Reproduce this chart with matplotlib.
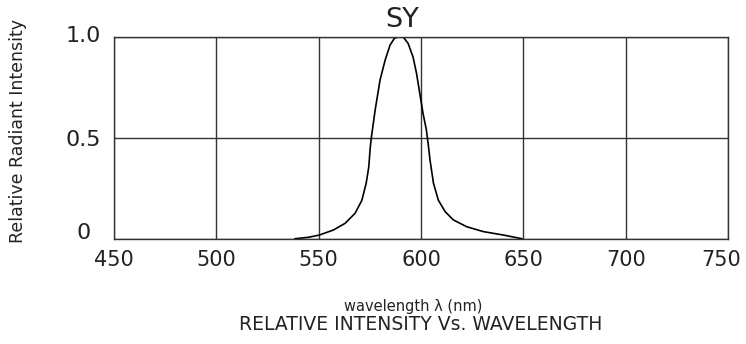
import matplotlib
matplotlib.use("Agg")
import matplotlib.pyplot as plt
from matplotlib.transforms import ScaledTranslation

# values
wavelength = [538.5, 545, 550.3, 557.2, 562.9, 567.8, 571.1, 573.2, 574.5,
              575.1, 575.6, 577.6, 580.0, 582.5, 584.9, 587.0, 589.0, 591.2,
              593.7, 596.1, 597.8, 599.4, 601.0, 602.6, 603.5, 604.4, 606.1,
              608.5, 611.8, 615.8, 622.4, 630.5, 640.3, 649.3]
intensity = [0.0, 0.007, 0.018, 0.043, 0.076, 0.126, 0.19, 0.274, 0.356,
             0.44, 0.49, 0.637, 0.786, 0.885, 0.959, 0.992, 1.0, 1.0,
             0.967, 0.90, 0.819, 0.72, 0.62, 0.54, 0.47, 0.39, 0.274,
             0.19, 0.134, 0.093, 0.059, 0.035, 0.018, 0.0]

x_ticks = [450, 500, 550, 600, 650, 700, 750]
y_ticks = [0, 0.5, 1.0]
y_labels = ["0", "0.5", "1.0"]

TXT = "#222222"
LINE = "#333333"

plt.rcParams["font.family"] = "DejaVu Sans"

fig = plt.figure(figsize=(7.46, 3.44), dpi=100)
ax = fig.add_axes([0.1528, 0.3061, 0.8231, 0.5872])

ax.plot(wavelength, intensity, color="black", linewidth=1.2)

ax.set_xlim(450, 750)
ax.set_ylim(0, 1.0)
ax.set_xticks(x_ticks)
ax.set_yticks(y_ticks)
ax.set_yticklabels(y_labels)
ax.grid(True, color=LINE, linewidth=1.0)
ax.set_axisbelow(True)
for s in ax.spines.values():
    s.set_color(LINE)
    s.set_linewidth(1.0)

ax.tick_params(axis="x", length=0, pad=8, labelsize=15, labelcolor=TXT)
ax.tick_params(axis="y", length=0, pad=22, labelsize=16, labelcolor=TXT)

# nudge y labels up a little like the original drawing (pixels)
y_nudge = [8, 0, 3]
for lbl, dy in zip(ax.get_yticklabels(), y_nudge):
    lbl.set_horizontalalignment("center")
    lbl.set_transform(lbl.get_transform() + ScaledTranslation(0, dy / 100, fig.dpi_scale_trans))
# last x label sits a bit left so it stays inside the figure
last = ax.get_xticklabels()[-1]
last.set_transform(last.get_transform() + ScaledTranslation(-7 / 100, 0, fig.dpi_scale_trans))

fig.text(402 / 746, 1 - 20 / 344, "SY", ha="center", va="center",
         fontsize=19.5, color=TXT)
fig.text(18 / 746, 1 - 131 / 344, "Relative Radiant Intensity", rotation=90,
         ha="center", va="center", fontsize=12.5, color=TXT)
fig.text(413 / 746, 1 - 307 / 344, "wavelength \u03bb (nm)", ha="center",
         va="center", fontsize=10.5, color=TXT)
fig.text(421 / 746, 1 - 324 / 344, "RELATIVE INTENSITY Vs. WAVELENGTH",
         ha="center", va="center", fontsize=13.5, color=TXT)

fig.savefig("out.png", dpi=100)
